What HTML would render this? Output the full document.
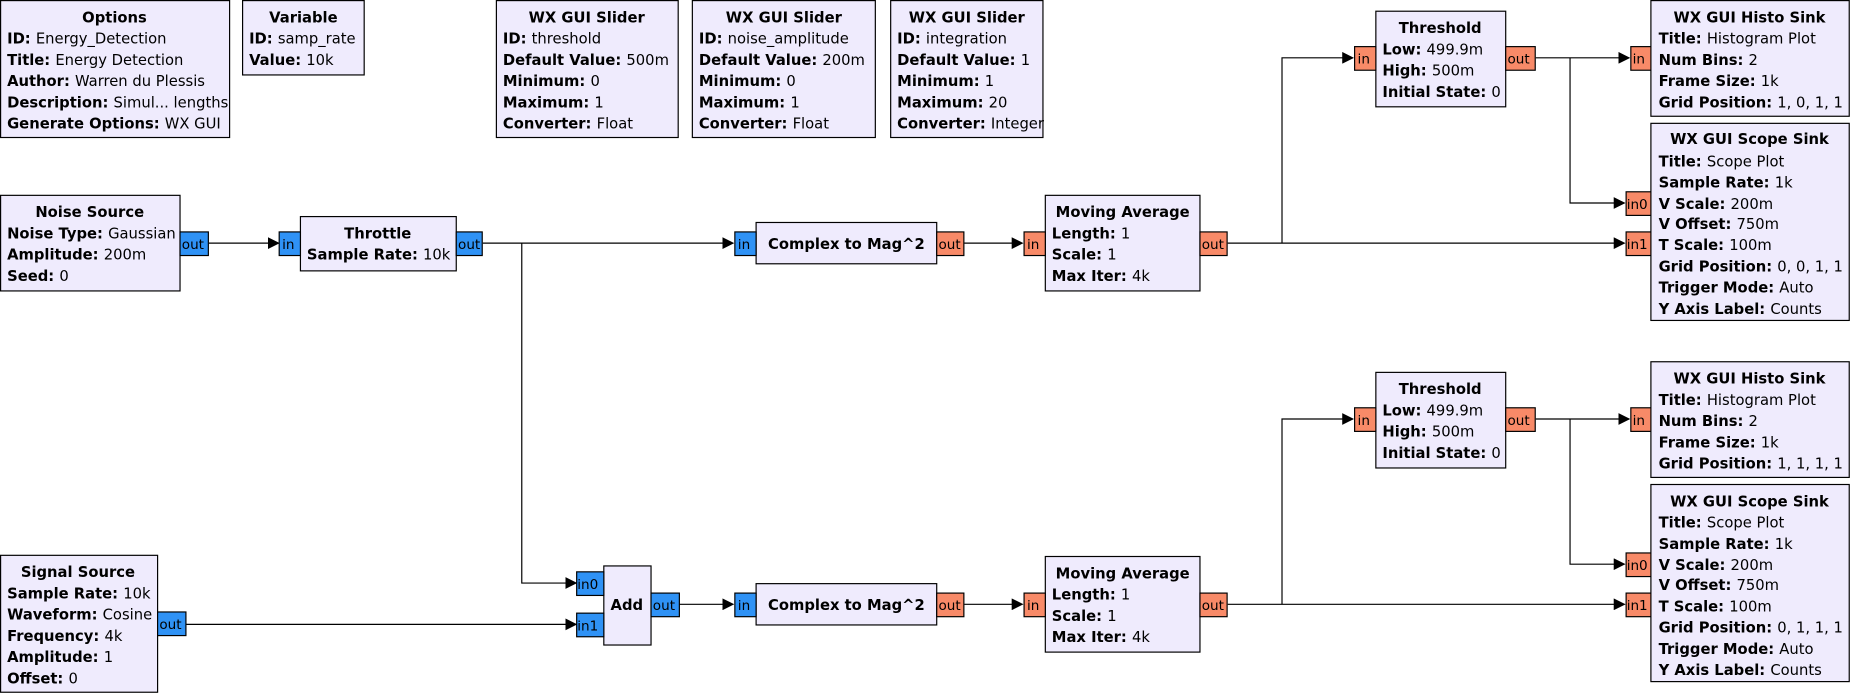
<!DOCTYPE html>
<html><head><meta charset="utf-8"><style>
html,body{margin:0;padding:0;background:#fff;width:1851px;height:694px;overflow:hidden}
svg{display:block}
text{font-family:"DejaVu Sans","Liberation Sans",sans-serif;font-size:12.5px;fill:#000}
.t{font-weight:bold;text-anchor:middle}
.b{font-weight:bold}
.p{font-size:11.5px}
.box{fill:#efebfd;stroke:#000;stroke-width:1}
.bl{fill:#2f92f5;stroke:#000;stroke-width:1}
.or{fill:#f88a68;stroke:#000;stroke-width:1}
.w{fill:none;stroke:#000;stroke-width:1}
</style></head><body>
<svg width="1851" height="694" viewBox="0 0 1568 588" preserveAspectRatio="none">
<defs><marker id="a" markerWidth="10" markerHeight="10" refX="9" refY="5" orient="auto" markerUnits="userSpaceOnUse"><path d="M0,0 L10,5 L0,10 z" fill="#000"/></marker></defs>

<g class="w">
<path d="M177,206 H236" marker-end="url(#a)"/>
<path d="M409,206 H621" marker-end="url(#a)"/>
<path d="M442,206 V494 H488" marker-end="url(#a)"/>
<path d="M158,529 H488" marker-end="url(#a)"/>
<path d="M575,512 H621" marker-end="url(#a)"/>
<path d="M817,206 H866" marker-end="url(#a)"/>
<path d="M817,512 H866" marker-end="url(#a)"/>
<path d="M1040,206 H1376" marker-end="url(#a)"/>
<path d="M1086,206 V49 H1146" marker-end="url(#a)"/>
<path d="M1301,49 H1380" marker-end="url(#a)"/>
<path d="M1330,49 V172 H1376" marker-end="url(#a)"/>
<path d="M1040,512 H1376" marker-end="url(#a)"/>
<path d="M1086,512 V355 H1146" marker-end="url(#a)"/>
<path d="M1301,355 H1380" marker-end="url(#a)"/>
<path d="M1330,355 V478 H1376" marker-end="url(#a)"/>
</g>

<rect class="box" x="0.5" y="0.5" width="194" height="116"/>
<text class="t" x="97" y="19">Options</text>
<text x="6" y="37"><tspan class="b">ID: </tspan>Energy_Detection</text>
<text x="6" y="55"><tspan class="b">Title: </tspan>Energy Detection</text>
<text x="6" y="73"><tspan class="b">Author: </tspan>Warren du Plessis</text>
<text x="6" y="91"><tspan class="b">Description: </tspan>Simul... lengths</text>
<text x="6" y="109"><tspan class="b">Generate Options: </tspan>WX GUI</text>

<rect class="box" x="205.5" y="0.5" width="103" height="63"/>
<text class="t" x="257" y="19">Variable</text>
<text x="211" y="37"><tspan class="b">ID: </tspan>samp_rate</text>
<text x="211" y="55"><tspan class="b">Value: </tspan>10k</text>

<rect class="box" x="420.5" y="0.5" width="154" height="116"/>
<text class="t" x="497" y="19">WX GUI Slider</text>
<text x="426" y="37"><tspan class="b">ID: </tspan>threshold</text>
<text x="426" y="55"><tspan class="b">Default Value: </tspan>500m</text>
<text x="426" y="73"><tspan class="b">Minimum: </tspan>0</text>
<text x="426" y="91"><tspan class="b">Maximum: </tspan>1</text>
<text x="426" y="109"><tspan class="b">Converter: </tspan>Float</text>

<rect class="box" x="586.5" y="0.5" width="155" height="116"/>
<text class="t" x="664" y="19">WX GUI Slider</text>
<text x="592" y="37"><tspan class="b">ID: </tspan>noise_amplitude</text>
<text x="592" y="55"><tspan class="b">Default Value: </tspan>200m</text>
<text x="592" y="73"><tspan class="b">Minimum: </tspan>0</text>
<text x="592" y="91"><tspan class="b">Maximum: </tspan>1</text>
<text x="592" y="109"><tspan class="b">Converter: </tspan>Float</text>

<rect class="box" x="754.5" y="0.5" width="129" height="116"/>
<text class="t" x="819" y="19">WX GUI Slider</text>
<text x="760" y="37"><tspan class="b">ID: </tspan>integration</text>
<text x="760" y="55"><tspan class="b">Default Value: </tspan>1</text>
<text x="760" y="73"><tspan class="b">Minimum: </tspan>1</text>
<text x="760" y="91"><tspan class="b">Maximum: </tspan>20</text>
<text x="760" y="109"><tspan class="b">Converter: </tspan>Integer</text>

<rect class="box" x="0.5" y="165.5" width="152" height="81"/>
<text class="t" x="76" y="184">Noise Source</text>
<text x="6" y="202"><tspan class="b">Noise Type: </tspan>Gaussian</text>
<text x="6" y="220"><tspan class="b">Amplitude: </tspan>200m</text>
<text x="6" y="238"><tspan class="b">Seed: </tspan>0</text>
<rect class="bl" x="152.5" y="196.5" width="24" height="20"/><text class="p" x="154" y="211">out</text>

<rect class="box" x="254.5" y="183.5" width="132" height="46"/>
<text class="t" x="320" y="202">Throttle</text>
<text x="260" y="220"><tspan class="b">Sample Rate: </tspan>10k</text>
<rect class="bl" x="236.5" y="196.5" width="18" height="20"/><text class="p" x="239" y="211">in</text>
<rect class="bl" x="386.5" y="196.5" width="22" height="20"/><text class="p" x="388" y="211">out</text>

<rect class="box" x="640.5" y="188.5" width="153" height="35"/>
<text class="t" x="717" y="211">Complex to Mag^2</text>
<rect class="bl" x="622.5" y="196.5" width="18" height="20"/><text class="p" x="625" y="211">in</text>
<rect class="or" x="793.5" y="196.5" width="23" height="20"/><text class="p" x="795" y="211">out</text>

<rect class="box" x="885.5" y="165.5" width="131" height="81"/>
<text class="t" x="951" y="184">Moving Average</text>
<text x="891" y="202"><tspan class="b">Length: </tspan>1</text>
<text x="891" y="220"><tspan class="b">Scale: </tspan>1</text>
<text x="891" y="238"><tspan class="b">Max Iter: </tspan>4k</text>
<rect class="or" x="867.5" y="196.5" width="18" height="20"/><text class="p" x="870" y="211">in</text>
<rect class="or" x="1016.5" y="196.5" width="23" height="20"/><text class="p" x="1018" y="211">out</text>

<rect class="box" x="1165.5" y="9.5" width="110" height="81"/>
<text class="t" x="1220" y="28">Threshold</text>
<text x="1171" y="46"><tspan class="b">Low: </tspan>499.9m</text>
<text x="1171" y="64"><tspan class="b">High: </tspan>500m</text>
<text x="1171" y="82"><tspan class="b">Initial State: </tspan>0</text>
<rect class="or" x="1147.5" y="39.5" width="18" height="20"/><text class="p" x="1150" y="54">in</text>
<rect class="or" x="1275.5" y="39.5" width="25" height="20"/><text class="p" x="1277" y="54">out</text>

<rect class="box" x="1398.5" y="0.5" width="168" height="98"/>
<text class="t" x="1482" y="19">WX GUI Histo Sink</text>
<text x="1405" y="37"><tspan class="b">Title: </tspan>Histogram Plot</text>
<text x="1405" y="55"><tspan class="b">Num Bins: </tspan>2</text>
<text x="1405" y="73"><tspan class="b">Frame Size: </tspan>1k</text>
<text x="1405" y="91"><tspan class="b">Grid Position: </tspan>1, 0, 1, 1</text>
<rect class="or" x="1381.5" y="39.5" width="17" height="20"/><text class="p" x="1383" y="54">in</text>

<rect class="box" x="1398.5" y="104.5" width="168" height="167"/>
<text class="t" x="1482" y="122">WX GUI Scope Sink</text>
<text x="1405" y="141"><tspan class="b">Title: </tspan>Scope Plot</text>
<text x="1405" y="159"><tspan class="b">Sample Rate: </tspan>1k</text>
<text x="1405" y="177"><tspan class="b">V Scale: </tspan>200m</text>
<text x="1405" y="194"><tspan class="b">V Offset: </tspan>750m</text>
<text x="1405" y="212"><tspan class="b">T Scale: </tspan>100m</text>
<text x="1405" y="230"><tspan class="b">Grid Position: </tspan>0, 0, 1, 1</text>
<text x="1405" y="248"><tspan class="b">Trigger Mode: </tspan>Auto</text>
<text x="1405" y="266"><tspan class="b">Y Axis Label: </tspan>Counts</text>
<rect class="or" x="1377.5" y="162.5" width="21" height="20"/><text class="p" x="1378" y="177">in0</text>
<rect class="or" x="1377.5" y="196.5" width="21" height="20"/><text class="p" x="1378" y="211">in1</text>

<rect class="box" x="0.5" y="470.5" width="133" height="116"/>
<text class="t" x="66" y="489">Signal Source</text>
<text x="6" y="507"><tspan class="b">Sample Rate: </tspan>10k</text>
<text x="6" y="525"><tspan class="b">Waveform: </tspan>Cosine</text>
<text x="6" y="543"><tspan class="b">Frequency: </tspan>4k</text>
<text x="6" y="561"><tspan class="b">Amplitude: </tspan>1</text>
<text x="6" y="579"><tspan class="b">Offset: </tspan>0</text>
<rect class="bl" x="133.5" y="518.5" width="24" height="20"/><text class="p" x="135" y="533">out</text>

<rect class="box" x="511.5" y="479.5" width="40" height="67"/>
<text class="t" x="531" y="517">Add</text>
<rect class="bl" x="488.5" y="484.5" width="23" height="20"/><text class="p" x="489" y="499">in0</text>
<rect class="bl" x="488.5" y="519.5" width="23" height="20"/><text class="p" x="489" y="534">in1</text>
<rect class="bl" x="551.5" y="502.5" width="24" height="20"/><text class="p" x="553" y="517">out</text>

<rect class="box" x="640.5" y="494.5" width="153" height="35"/>
<text class="t" x="717" y="517">Complex to Mag^2</text>
<rect class="bl" x="622.5" y="502.5" width="18" height="20"/><text class="p" x="625" y="517">in</text>
<rect class="or" x="793.5" y="502.5" width="23" height="20"/><text class="p" x="795" y="517">out</text>

<rect class="box" x="885.5" y="471.5" width="131" height="81"/>
<text class="t" x="951" y="490">Moving Average</text>
<text x="891" y="508"><tspan class="b">Length: </tspan>1</text>
<text x="891" y="526"><tspan class="b">Scale: </tspan>1</text>
<text x="891" y="544"><tspan class="b">Max Iter: </tspan>4k</text>
<rect class="or" x="867.5" y="502.5" width="18" height="20"/><text class="p" x="870" y="517">in</text>
<rect class="or" x="1016.5" y="502.5" width="23" height="20"/><text class="p" x="1018" y="517">out</text>

<rect class="box" x="1165.5" y="315.5" width="110" height="81"/>
<text class="t" x="1220" y="334">Threshold</text>
<text x="1171" y="352"><tspan class="b">Low: </tspan>499.9m</text>
<text x="1171" y="370"><tspan class="b">High: </tspan>500m</text>
<text x="1171" y="388"><tspan class="b">Initial State: </tspan>0</text>
<rect class="or" x="1147.5" y="345.5" width="18" height="20"/><text class="p" x="1150" y="360">in</text>
<rect class="or" x="1275.5" y="345.5" width="25" height="20"/><text class="p" x="1277" y="360">out</text>

<rect class="box" x="1398.5" y="306.5" width="168" height="98"/>
<text class="t" x="1482" y="325">WX GUI Histo Sink</text>
<text x="1405" y="343"><tspan class="b">Title: </tspan>Histogram Plot</text>
<text x="1405" y="361"><tspan class="b">Num Bins: </tspan>2</text>
<text x="1405" y="379"><tspan class="b">Frame Size: </tspan>1k</text>
<text x="1405" y="397"><tspan class="b">Grid Position: </tspan>1, 1, 1, 1</text>
<rect class="or" x="1381.5" y="345.5" width="17" height="20"/><text class="p" x="1383" y="360">in</text>

<rect class="box" x="1398.5" y="410.5" width="168" height="167"/>
<text class="t" x="1482" y="429">WX GUI Scope Sink</text>
<text x="1405" y="447"><tspan class="b">Title: </tspan>Scope Plot</text>
<text x="1405" y="465"><tspan class="b">Sample Rate: </tspan>1k</text>
<text x="1405" y="483"><tspan class="b">V Scale: </tspan>200m</text>
<text x="1405" y="500"><tspan class="b">V Offset: </tspan>750m</text>
<text x="1405" y="518"><tspan class="b">T Scale: </tspan>100m</text>
<text x="1405" y="536"><tspan class="b">Grid Position: </tspan>0, 1, 1, 1</text>
<text x="1405" y="554"><tspan class="b">Trigger Mode: </tspan>Auto</text>
<text x="1405" y="572"><tspan class="b">Y Axis Label: </tspan>Counts</text>
<rect class="or" x="1377.5" y="468.5" width="21" height="20"/><text class="p" x="1378" y="483">in0</text>
<rect class="or" x="1377.5" y="502.5" width="21" height="20"/><text class="p" x="1378" y="517">in1</text>
</svg>
</body></html>
